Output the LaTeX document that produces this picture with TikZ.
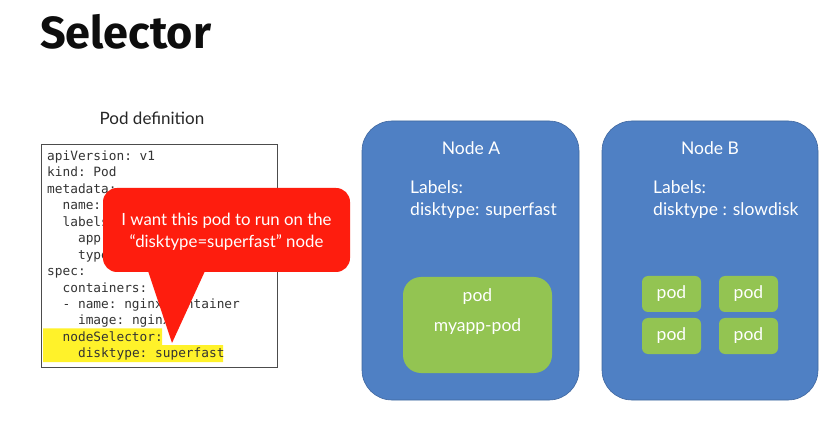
\documentclass[tikz,border=0pt]{standalone}
\usepackage{fontspec}
\usetikzlibrary{fit}
\setmainfont{Lato}
\setmonofont{DejaVu Sans Mono}
\newfontfamily\titlefont{Fira Sans}
\definecolor{nodeblue}{HTML}{4F80C4}
\definecolor{nodeedge}{HTML}{40679F}
\definecolor{podgreen}{HTML}{93C452}
\definecolor{calloutred}{HTML}{FE1D0E}
\definecolor{hlyellow}{HTML}{FFF22A}
\tikzset{
  codeline/.style={anchor=base west, inner sep=0pt, font=\ttfamily\fontsize{12.8}{15}\selectfont, text=black!80},
  nodebox/.style={fill=nodeblue, draw=nodeedge, line width=0.6pt, rounded corners=30pt},
  podbox/.style={fill=podgreen, draw=none, rounded corners=#1},
  podbox/.default=6pt,
  wtext/.style={text=white, inner sep=0pt, font=\fontsize{17.5}{21}\selectfont},
  ltext/.style={text=white, inner sep=0pt, anchor=base west, font=\fontsize{17.5}{21}\selectfont},
}
\begin{document}
\begin{tikzpicture}[x=1pt,y=-1pt]
\useasboundingbox[fill=white] (0,0) rectangle (832,427);
% title
\node[anchor=base west, inner sep=0pt, font=\titlefont\bfseries\fontsize{45}{50}\selectfont, text=black!95] (title) at (40,48.5) {Selector};
% pod definition
\node[inner sep=0pt, font=\fontsize{17}{20}\selectfont, text=black!85] (poddef) at (152,118.5) {Pod definition};
\coordinate (cbA) at (41,144.5);
\coordinate (cbB) at (277,367.5);
\node[inner sep=0pt, outer sep=0pt, draw=black!70, line width=0.8pt, fit=(cbA)(cbB)] (codebox) {};
% highlight
\fill[hlyellow] (43,328.5) -- (162,328.5) -- (162,345) -- (223,345) -- (223,362) -- (43,362) -- cycle;
% code lines
\foreach \ind/\n/\txt [count=\k] in {
  0/0/{apiVersion: v1},
  0/1/{kind: Pod},
  0/2/{metadata:},
  2/3/{name: myapp-pod},
  2/4/{labels:},
  4/5/{app: myapp},
  4/6/{type: front-end},
  0/7/{spec:},
  2/8/{containers:},
  2/9/{- name: nginx-container},
  4/10/{image: nginx},
  2/11/{nodeSelector:},
  4/12/{disktype: superfast}} {
  \node[codeline] (code\k) at ({47+7.72*\ind},{160.5+16.45*\n}) {\txt};
}
% callout
\fill[calloutred, rounded corners=14pt] (103,188) rectangle (350,272);
\fill[calloutred] (148,271) -- (205,271) -- (172,343) -- cycle;
\node[inner sep=0pt, text=white, align=center, font=\fontsize{16.8}{21.5}\selectfont] (callout) at (226.5,232) {I want this pod to run on the\\``disktype=superfast'' node};
% Node A
\draw[nodebox] (362,121) rectangle (579,400);
\node[wtext] (nodeA) at (471,148) {Node A};
\node[ltext] (labA) at (410,194) {Labels:};
\node[ltext] (dtA) at (410,215.5) {disktype: superfast};
\draw[podbox=18pt] (403,277) rectangle (552,373);
\node[wtext] (podA) at (477.5,297) {pod};
\node[wtext] (podAname) at (477.5,327) {myapp-pod};
% Node B
\draw[nodebox] (602,121) rectangle (818,400);
\node[wtext] (nodeB) at (710,148) {Node B};
\node[ltext] (labB) at (653,194) {Labels:};
\node[ltext] (dtB) at (653,215.5) {disktype : slowdisk};
\foreach \xa/\ya [count=\k] in {642/276, 719/276, 642/318, 719/318} {
  \draw[podbox] (\xa,\ya) rectangle ({\xa+59},{\ya+36});
  \node[wtext] (podB\k) at ({\xa+29.5},{\ya+18}) {pod};
}
\end{tikzpicture}
\end{document}
